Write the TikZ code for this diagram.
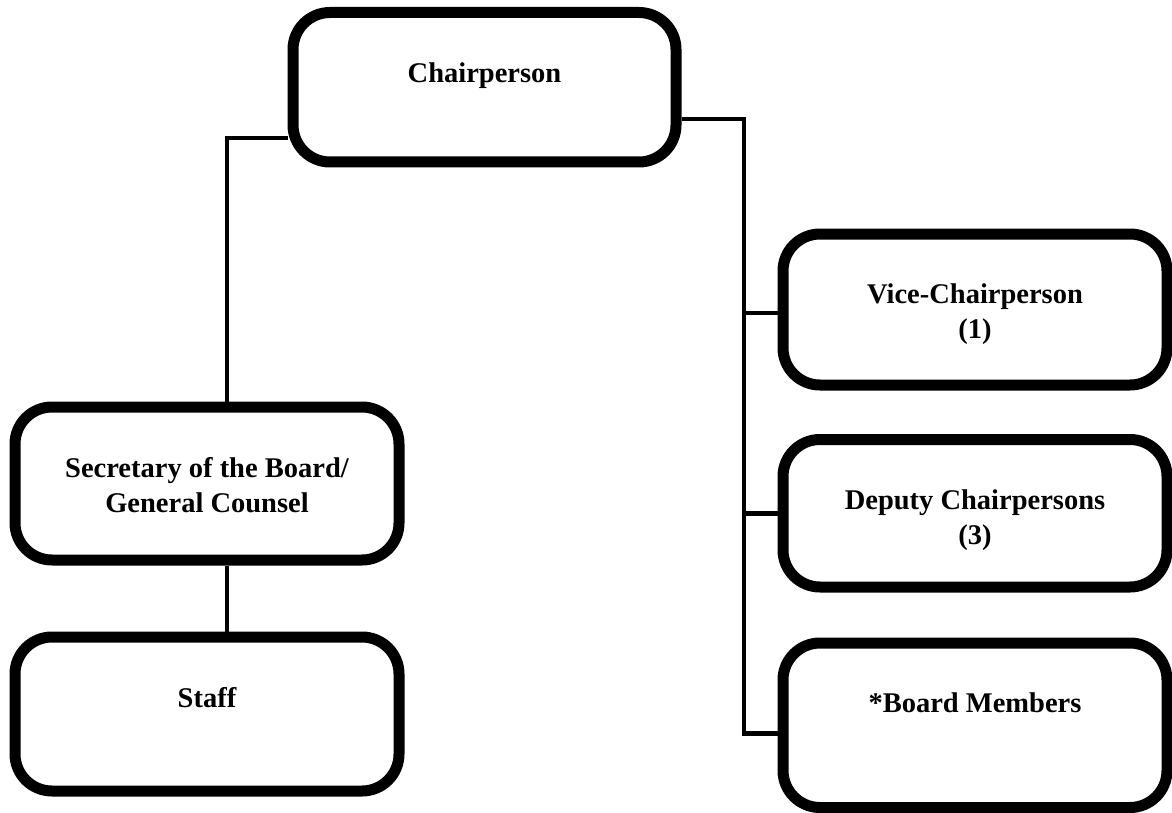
\documentclass[tikz,border=0pt]{standalone}
\usepackage{fontspec}
\setmainfont{Liberation Serif}
\tikzset{
  orgbox/.style={draw, line width=11pt, rounded corners=37pt, minimum width=384pt, inner sep=0pt},
  boxtext/.style={anchor=north, align=center, inner sep=0pt, font=\bfseries\fontsize{28.5}{35}\selectfont},
  link/.style={line width=4.5pt}
}
\begin{document}
\begin{tikzpicture}[x=1pt,y=1pt]
  \useasboundingbox (0,0) rectangle (1172,-813);
  % boxes
  \node[orgbox, minimum width=383pt, minimum height=149.5pt] (chair) at (484.5,-87.25) {};
  \node[orgbox, minimum height=151pt] (vice) at (975,-309.5) {};
  \node[orgbox, minimum height=147.5pt] (deputy) at (975,-513.25) {};
  \node[orgbox, minimum height=164.5pt] (board) at (975,-725.25) {};
  \node[orgbox, minimum height=153pt] (secretary) at (207,-483.5) {};
  \node[orgbox, minimum height=154pt] (staff) at (207,-714) {};
  % texts, hung from the top of each box
  \node[boxtext] (chairtext) at ([yshift=-55.5pt]chair.north) {Chairperson};
  \node[boxtext] (vicetext) at ([yshift=-55.5pt]vice.north) {Vice-Chairperson\\(1)};
  \node[boxtext] (deputytext) at ([yshift=-55.5pt]deputy.north) {Deputy Chairpersons\\(3)};
  \node[boxtext] (boardtext) at ([yshift=-55.5pt]board.north) {*Board Members};
  \node[boxtext] (secretarytext) at ([yshift=-55.5pt]secretary.north) {Secretary of the Board/\\General Counsel};
  \node[boxtext] (stafftext) at ([yshift=-55.5pt]staff.north) {Staff};
  % connectors
  \coordinate (lbend) at (227,-138);
  \coordinate (rbend) at (744,-119);
  \draw[link] (chair.west |- lbend) -- (lbend) -- (lbend |- secretary.north);
  \draw[link] (secretary.south -| lbend) -- (staff.north -| lbend);
  \draw[link] (chair.east |- rbend) -- (rbend) |- ([yshift=-8pt]board.west);
  \draw[link] ([yshift=-3.5pt]vice.west) -- ([yshift=-3.5pt]vice.west -| rbend);
  \draw[link] (deputy.west) -- (deputy.west -| rbend);
\end{tikzpicture}
\end{document}
